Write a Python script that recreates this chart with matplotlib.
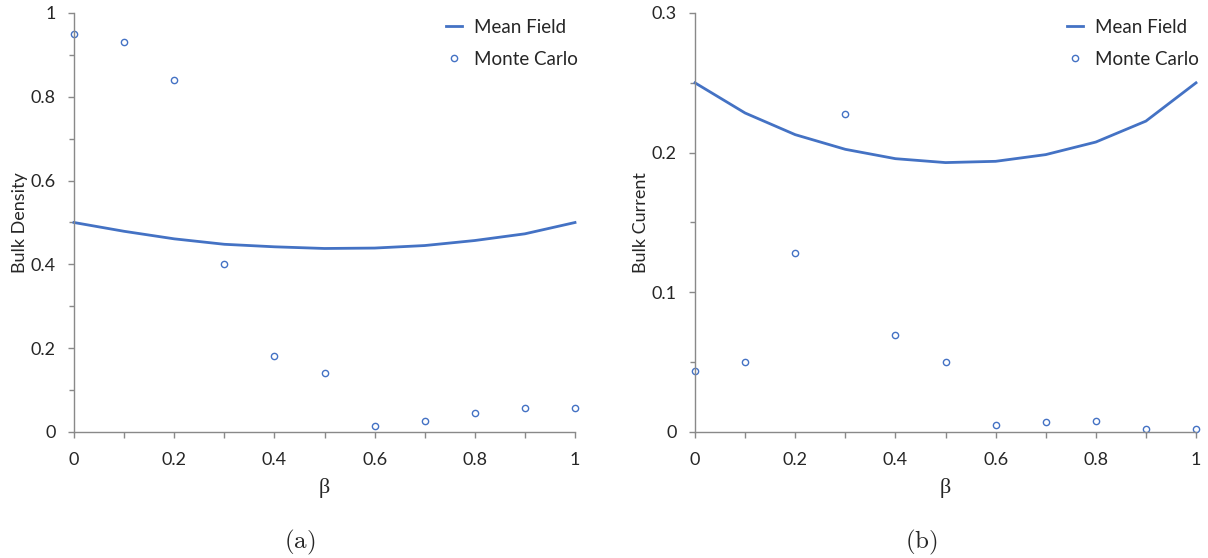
import matplotlib
matplotlib.use("Agg")
import matplotlib.pyplot as plt
from matplotlib.ticker import MultipleLocator

# beta values shared by both panels
beta = [0.0, 0.1, 0.2, 0.3, 0.4, 0.5, 0.6, 0.7, 0.8, 0.9, 1.0]

# (a) bulk density
density_mf = [0.5, 0.479, 0.461, 0.448, 0.442, 0.438, 0.439, 0.445, 0.457, 0.473, 0.5]
density_mc = [0.951, 0.930, 0.840, 0.400, 0.181, 0.140, 0.014, 0.027, 0.045, 0.057, 0.058]

# (b) bulk current
current_mf = [0.25, 0.2284, 0.2129, 0.2024, 0.1957, 0.1929, 0.1938, 0.1986, 0.2076, 0.2226, 0.25]
current_mc = [0.0439, 0.0501, 0.128, 0.228, 0.0698, 0.050, 0.005, 0.0069, 0.0078, 0.0024, 0.0019]

plt.rcParams['font.family'] = ['Lato', 'DejaVu Sans']
plt.rcParams['mathtext.fontset'] = 'cm'

blue = '#4472C4'
grey = '#898989'
txt = '#262626'

fig = plt.figure(figsize=(12.08, 5.58), dpi=100)
ax1 = fig.add_axes([74/1208, 1-432/558, 501/1208, 419/558])
ax2 = fig.add_axes([695/1208, 1-432/558, 501/1208, 419/558])


def style(ax, ymax, ymajor, yminor, ylabel):
    for s in ['top', 'right']:
        ax.spines[s].set_visible(False)
    for s in ['left', 'bottom']:
        ax.spines[s].set_color(grey)
        ax.spines[s].set_linewidth(1.0)
    ax.set_xlim(0, 1)
    ax.set_ylim(0, ymax)
    ax.xaxis.set_major_locator(MultipleLocator(0.2))
    ax.xaxis.set_minor_locator(MultipleLocator(0.1))
    ax.yaxis.set_major_locator(MultipleLocator(ymajor))
    ax.yaxis.set_minor_locator(MultipleLocator(yminor))
    ax.xaxis.set_major_formatter(plt.FuncFormatter(lambda v, p: f'{v:g}'))
    ax.yaxis.set_major_formatter(plt.FuncFormatter(lambda v, p: f'{v:g}'))
    ax.tick_params(axis='both', which='both', color=grey, width=1.0,
                   labelsize=13, labelcolor=txt, direction='out')
    ax.tick_params(axis='x', which='both', length=4.5, pad=10)
    ax.tick_params(axis='y', which='major', length=4.5, pad=8.5)
    ax.tick_params(axis='y', which='minor', length=3.5)
    ax.set_ylabel(ylabel, fontsize=13, color=txt, va='center')
    ax.yaxis.set_label_coords(-0.108, 0.5)
    ax.set_xlabel('β', fontsize=16, color=txt, family='Liberation Serif', va='center')
    ax.xaxis.set_label_coords(0.5, -0.134)
    ax.legend(loc='upper left', bbox_to_anchor=(0.708, 1.026), frameon=False,
              fontsize=13.5, handlelength=0.9, handletextpad=0.6,
              labelspacing=0.8, labelcolor=txt)


ax1.plot(beta, density_mf, color=blue, lw=2.0, label='Mean Field', clip_on=False)
ax1.plot(beta, density_mc, ls='none', marker='o', ms=4.5, mfc='none', mec=blue,
         mew=1.0, label='Monte Carlo', clip_on=False)
style(ax1, 1.0, 0.2, 0.1, 'Bulk Density')

ax2.plot(beta, current_mf, color=blue, lw=2.0, label='Mean Field', clip_on=False)
ax2.plot(beta, current_mc, ls='none', marker='o', ms=4.5, mfc='none', mec=blue,
         mew=1.0, label='Monte Carlo', clip_on=False)
style(ax2, 0.3, 0.1, 0.05, 'Bulk Current')

fig.text(299.5/1208, 1-542/558, r'$\mathrm{(a)}$', fontsize=18, ha='center', va='center', color=txt)
fig.text(921.5/1208, 1-542/558, r'$\mathrm{(b)}$', fontsize=18, ha='center', va='center', color=txt)

fig.savefig('out.png', dpi=100)
